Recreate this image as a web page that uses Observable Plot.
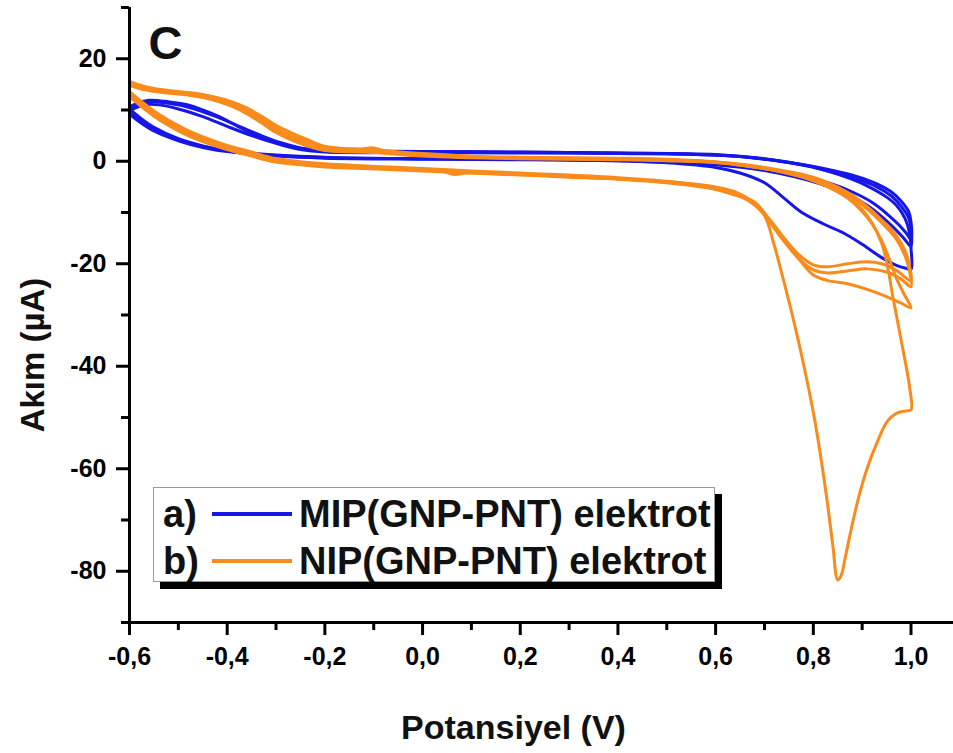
<!DOCTYPE html>
<html>
<head>
<meta charset="utf-8">
<script src="https://cdn.jsdelivr.net/npm/d3@7"></script>
<script src="https://cdn.jsdelivr.net/npm/@observablehq/plot@0.6"></script>
<style>
  html, body { margin: 0; padding: 0; background: #fff; }
  #wrap { position: relative; width: 953px; height: 753px; overflow: hidden; }
  .legend { position: absolute; left: 153px; top: 487px; width: 562px; height: 95px;
    box-sizing: border-box; border: 1px solid #999; background: #fff; box-shadow: 7px 7px 0 #000;
    font-family: 'Liberation Sans', Arial, sans-serif; font-weight: bold; font-size: 38px; color: #111; }
  .row { position: absolute; left: 9px; height: 48px; display: flex; align-items: center; white-space: nowrap; }
  .row .lab { width: 49px; }
  .row .sw { width: 80px; height: 4px; margin-right: 7px; }
</style>
</head>
<body>
<div id="wrap"></div>
<script>
// ---- axis ticks ----
const xDomain = [-0.6, 1.087];
const yDomain = [-90, 30];
const xTicks = [-0.6, -0.4, -0.2, 0.0, 0.2, 0.4, 0.6, 0.8, 1.0];
const xTickLabels = ["-0,6", "-0,4", "-0,2", "0,0", "0,2", "0,4", "0,6", "0,8", "1,0"];
const xMinorTicks = [-0.5, -0.3, -0.1, 0.1, 0.3, 0.5, 0.7, 0.9];
const yTicks = [-80, -60, -40, -20, 0, 20];
const yTickLabels = ["-80", "-60", "-40", "-20", "0", "20"];
const yMinorTicks = [-90, -70, -50, -30, -10, 10, 30];

const seriesNames = ["MIP(GNP-PNT) elektrot", "NIP(GNP-PNT) elektrot"];
const seriesTags = ["a)", "b)"];
const seriesColors = ["#1616e8", "#f98b1d"];

// ---- MIP (blue) cycles: [potential V, current µA] ----
const mipCycle1 = [
  [-0.6, 10.2], [-0.58, 8.6], [-0.55, 6.6], [-0.5, 4.4], [-0.45, 3.0], [-0.4, 2.1], [-0.3, 1.2], [-0.2, 0.8],
  [-0.1, 0.6], [0.0, 0.5], [0.2, 0.4], [0.4, 0.1], [0.5, -0.3], [0.6, -1.2], [0.65, -2.3], [0.7, -4.2],
  [0.735, -6.8], [0.775, -9.9], [0.82, -12.2], [0.86, -13.9], [0.9, -16.2], [0.94, -18.8], [0.97, -20.3],
  [0.99, -20.9], [1.0, -21.1],
  [1.0, -17.0], [0.997, -14.0], [0.988, -11.2], [0.97, -8.6], [0.95, -7.0], [0.91, -4.8], [0.876, -3.4],
  [0.82, -1.6], [0.774, -0.6], [0.7, 0.5], [0.6, 1.3], [0.4, 1.6], [0.2, 1.8], [0.0, 1.9], [-0.1, 2.0],
  [-0.2, 2.1], [-0.25, 2.5], [-0.28, 3.1], [-0.32, 4.3], [-0.35, 5.5], [-0.38, 6.9], [-0.41, 8.4],
  [-0.45, 10.0], [-0.48, 11.0], [-0.52, 11.6], [-0.56, 11.9], [-0.585, 11.3], [-0.6, 10.6]
];
const mipCycle2 = [
  [-0.6, 9.6], [-0.58, 8.0], [-0.55, 6.2], [-0.5, 4.2], [-0.45, 2.9], [-0.4, 2.0], [-0.3, 1.1], [-0.2, 0.7],
  [0.0, 0.5], [0.2, 0.4], [0.4, 0.2], [0.5, -0.1], [0.6, -0.7], [0.7, -1.8], [0.76, -3.0], [0.82, -4.6],
  [0.87, -6.4], [0.91, -8.6], [0.94, -10.8], [0.965, -13.0], [0.985, -15.0], [1.0, -16.6],
  [1.0, -13.2], [0.995, -11.0], [0.98, -8.8], [0.96, -6.8], [0.93, -5.0], [0.89, -3.5], [0.84, -2.2],
  [0.79, -1.0], [0.72, 0.2], [0.62, 1.1], [0.5, 1.5], [0.3, 1.7], [0.1, 1.8], [-0.1, 1.9], [-0.2, 2.0],
  [-0.25, 2.6], [-0.29, 3.6], [-0.33, 5.0], [-0.37, 6.6], [-0.42, 8.6], [-0.47, 10.3], [-0.52, 11.3],
  [-0.56, 11.5], [-0.585, 10.8], [-0.6, 10.1]
];
const mipCycle3 = [
  [-0.6, 9.2], [-0.58, 7.7], [-0.55, 5.9], [-0.5, 4.0], [-0.45, 2.7], [-0.4, 1.9], [-0.3, 1.0], [-0.2, 0.6],
  [0.0, 0.4], [0.2, 0.3], [0.4, 0.1], [0.5, -0.2], [0.6, -0.6], [0.7, -1.6], [0.77, -2.8], [0.83, -4.2],
  [0.88, -6.0], [0.92, -8.0], [0.95, -10.2], [0.975, -12.4], [0.99, -14.0], [1.0, -15.2],
  [1.0, -11.8], [0.995, -9.8], [0.98, -7.8], [0.96, -6.0], [0.93, -4.4], [0.89, -3.0], [0.84, -1.8],
  [0.78, -0.7], [0.7, 0.4], [0.6, 1.2], [0.4, 1.5], [0.2, 1.6], [0.0, 1.7], [-0.2, 1.8], [-0.25, 2.3],
  [-0.3, 3.5], [-0.35, 5.0], [-0.4, 6.8], [-0.45, 8.7], [-0.5, 10.2], [-0.54, 11.0], [-0.57, 11.0],
  [-0.6, 9.8]
];

// ---- NIP (orange) cycles ----
const nipCycle1 = [
  [-0.6, 13.0], [-0.58, 11.3], [-0.55, 9.1], [-0.52, 7.3], [-0.48, 5.3], [-0.44, 3.8], [-0.4, 2.6],
  [-0.35, 1.3], [-0.31, 0.2], [-0.25, -0.5], [-0.2, -0.9], [-0.1, -1.3], [0.0, -1.7], [0.04, -1.9],
  [0.065, -2.6], [0.09, -2.3], [0.15, -2.4], [0.25, -2.8], [0.35, -3.2], [0.45, -3.7], [0.55, -4.5],
  [0.6, -5.3], [0.64, -6.4], [0.675, -8.2], [0.70, -10.6], [0.72, -16.4], [0.74, -23.6], [0.76, -31.2],
  [0.78, -39.6], [0.80, -49.0], [0.815, -57.5], [0.83, -67.5], [0.84, -75.0], [0.85, -81.7],
  [0.857, -80.8], [0.865, -77.5], [0.876, -72.5], [0.893, -65.5], [0.911, -59.7], [0.93, -55.0],
  [0.951, -50.8], [0.97, -49.2], [0.99, -48.7], [1.0, -48.5],
  [0.997, -44.0], [0.99, -40.0], [0.982, -36.0], [0.972, -31.0], [0.962, -26.0], [0.952, -20.5],
  [0.94, -16.0], [0.92, -12.0], [0.9, -9.4], [0.87, -7.0], [0.83, -5.0], [0.78, -3.2], [0.72, -1.8],
  [0.65, -0.8], [0.6, -0.2], [0.5, 0.3], [0.4, 0.5], [0.3, 0.6], [0.2, 0.7], [0.1, 0.9], [0.0, 1.3],
  [-0.07, 1.8], [-0.1, 2.6], [-0.13, 2.4], [-0.17, 2.5], [-0.21, 3.0], [-0.24, 3.9], [-0.27, 5.0],
  [-0.29, 5.9], [-0.31, 7.1], [-0.33, 8.4], [-0.355, 9.8], [-0.38, 11.0], [-0.41, 12.1], [-0.448, 13.0],
  [-0.5, 13.6], [-0.55, 14.2], [-0.58, 14.9], [-0.6, 15.6]
];
const nipCycle2 = [
  [-0.6, 13.6], [-0.58, 12.0], [-0.55, 9.8], [-0.52, 8.0], [-0.48, 6.0], [-0.44, 4.4], [-0.4, 3.1],
  [-0.35, 1.8], [-0.31, 0.7], [-0.25, -0.1], [-0.2, -0.5], [-0.1, -1.0], [0.0, -1.4], [0.1, -1.9],
  [0.2, -2.3], [0.3, -2.7], [0.4, -3.2], [0.5, -3.9], [0.6, -5.0], [0.64, -6.0], [0.68, -8.2],
  [0.71, -11.3], [0.74, -15.0], [0.77, -19.0], [0.80, -22.2], [0.83, -23.3], [0.87, -23.9], [0.91, -25.0],
  [0.95, -26.4], [0.98, -27.7], [1.0, -28.6],
  [0.985, -25.8], [0.97, -22.8], [0.955, -19.0], [0.94, -15.5], [0.92, -12.2], [0.9, -9.8], [0.87, -7.2],
  [0.83, -5.0], [0.78, -3.1], [0.72, -1.7], [0.65, -0.7], [0.6, -0.1], [0.5, 0.4], [0.4, 0.6], [0.3, 0.7],
  [0.2, 0.8], [0.1, 1.0], [0.0, 1.5], [-0.1, 2.2], [-0.2, 2.9], [-0.24, 4.4], [-0.27, 5.6], [-0.3, 7.0],
  [-0.33, 8.8], [-0.36, 10.4], [-0.39, 11.6], [-0.43, 12.6], [-0.48, 13.3], [-0.54, 13.9], [-0.58, 14.6],
  [-0.6, 15.2]
];
const nipCycle3 = [
  [-0.6, 12.6], [-0.58, 11.0], [-0.55, 8.8], [-0.52, 7.0], [-0.48, 5.0], [-0.44, 3.5], [-0.4, 2.3],
  [-0.35, 1.0], [-0.31, 0.0], [-0.25, -0.7], [-0.2, -1.1], [-0.1, -1.5], [0.0, -1.9], [0.1, -2.3],
  [0.2, -2.7], [0.3, -3.1], [0.4, -3.5], [0.5, -4.2], [0.6, -5.5], [0.64, -6.6], [0.68, -8.0],
  [0.71, -11.4], [0.74, -15.0], [0.77, -18.2], [0.8, -20.2], [0.83, -20.6], [0.87, -20.0], [0.91, -19.6],
  [0.94, -20.0], [0.97, -21.3], [1.0, -23.3],
  [0.997, -20.5], [0.988, -17.5], [0.97, -14.5], [0.946, -12.0], [0.91, -8.8], [0.876, -6.4], [0.82, -3.8],
  [0.774, -2.5], [0.7, -1.2], [0.62, -0.3], [0.5, 0.2], [0.4, 0.4], [0.3, 0.5], [0.2, 0.6], [0.1, 0.8],
  [0.0, 1.1], [-0.1, 1.9], [-0.2, 2.3], [-0.24, 3.4], [-0.27, 4.5], [-0.3, 6.0], [-0.33, 7.9],
  [-0.36, 9.6], [-0.39, 10.9], [-0.43, 12.1], [-0.48, 13.0], [-0.54, 13.6], [-0.58, 14.4], [-0.6, 15.0]
];
const nipCycle4 = [
  [-0.6, 13.3], [-0.58, 11.6], [-0.55, 9.4], [-0.52, 7.6], [-0.48, 5.6], [-0.44, 4.1], [-0.4, 2.8],
  [-0.35, 1.5], [-0.31, 0.4], [-0.25, -0.3], [-0.2, -0.7], [-0.1, -1.2], [0.0, -1.6], [0.1, -2.1],
  [0.2, -2.5], [0.3, -2.9], [0.4, -3.4], [0.5, -4.0], [0.6, -5.2], [0.64, -6.4], [0.68, -8.3],
  [0.71, -11.8], [0.74, -15.6], [0.77, -19.0], [0.8, -21.2], [0.83, -21.8], [0.87, -21.4], [0.91, -21.0],
  [0.95, -21.6], [0.98, -23.0], [1.0, -24.5],
  [0.997, -21.5], [0.988, -18.5], [0.97, -15.2], [0.946, -12.6], [0.91, -9.3], [0.876, -6.9], [0.82, -4.2],
  [0.774, -2.8], [0.7, -1.4], [0.62, -0.4], [0.5, 0.1], [0.4, 0.3], [0.3, 0.4], [0.2, 0.5], [0.1, 0.7],
  [0.0, 1.0], [-0.1, 1.7], [-0.2, 2.1], [-0.24, 3.1], [-0.27, 4.2], [-0.3, 5.6], [-0.33, 7.5],
  [-0.36, 9.3], [-0.39, 10.7], [-0.43, 12.0], [-0.48, 12.9], [-0.54, 13.5], [-0.58, 14.2], [-0.6, 14.8]
];

function toRows(series, cycle, pts) {
  return pts.map(([x, y], i) => ({series, cycle: series + "-" + cycle, i, x, y}));
}
const mipRows = [
  ...toRows("MIP", 1, mipCycle1), ...toRows("MIP", 2, mipCycle2), ...toRows("MIP", 3, mipCycle3)
];
const nipRows = [
  ...toRows("NIP", 1, nipCycle1), ...toRows("NIP", 2, nipCycle2),
  ...toRows("NIP", 3, nipCycle3), ...toRows("NIP", 4, nipCycle4)
];

const fontFamily = "'Liberation Sans', Arial, Helvetica, sans-serif";

const chart = Plot.plot({
  width: 953,
  height: 753,
  marginLeft: 129,
  marginRight: 0,
  marginTop: 7,
  marginBottom: 131,
  x: {domain: xDomain},
  y: {domain: yDomain},
  style: {fontFamily, fontWeight: "bold", background: "white", color: "black", overflow: "visible"},
  marks: [
    Plot.line(mipRows, {x: "x", y: "y", z: "cycle", stroke: seriesColors[0], strokeWidth: 3, curve: "catmull-rom"}),
    Plot.line(nipRows, {x: "x", y: "y", z: "cycle", stroke: seriesColors[1], strokeWidth: 3, curve: "catmull-rom"}),
    Plot.axisX(xTicks, {tickSize: 13, tickPadding: 12, strokeWidth: 3, fontSize: 25, fontWeight: "bold",
      tickFormat: d => xTickLabels[xTicks.indexOf(d)], label: null}),
    Plot.axisX(xMinorTicks, {tickSize: 8, strokeWidth: 3, tickFormat: () => "", label: null}),
    Plot.axisY(yTicks, {tickSize: 13, tickPadding: 10, strokeWidth: 3, fontSize: 25, fontWeight: "bold",
      tickFormat: d => yTickLabels[yTicks.indexOf(d)], label: null}),
    Plot.axisY(yMinorTicks, {tickSize: 8, strokeWidth: 3, tickFormat: () => "", label: null}),
    Plot.ruleX([xDomain[0]], {strokeWidth: 3, stroke: "black"}),
    Plot.ruleY([yDomain[0]], {strokeWidth: 3, stroke: "black"}),
    Plot.text(["Akım (µA)"], {text: d => d, frameAnchor: "left", dx: -96, dy: 40, rotate: -90,
      textAnchor: "middle", lineAnchor: "middle", fontSize: 33, fontWeight: "bold", fill: "#111"}),
    Plot.text(["Potansiyel (V)"], {text: d => d, frameAnchor: "bottom", dx: -28, dy: 106, textAnchor: "middle",
      lineAnchor: "middle", fontSize: 34, fontWeight: "bold", fill: "#111"}),
    Plot.text(["C"], {text: d => d, frameAnchor: "top-left", dx: 19, dy: 18, textAnchor: "start",
      lineAnchor: "top", fontSize: 47, fontWeight: "bold", fill: "#111"})
  ]
});

const wrap = document.getElementById("wrap");
wrap.appendChild(chart);

const legend = document.createElement("div");
legend.className = "legend";
seriesNames.forEach((name, k) => {
  const row = document.createElement("div");
  row.className = "row";
  row.style.top = (2 + k * 47) + "px";
  const lab = document.createElement("span");
  lab.className = "lab";
  lab.textContent = seriesTags[k];
  const sw = document.createElement("span");
  sw.className = "sw";
  sw.style.background = seriesColors[k];
  const txt = document.createElement("span");
  txt.textContent = name;
  row.append(lab, sw, txt);
  legend.appendChild(row);
});
wrap.appendChild(legend);
</script>
</body>
</html>
